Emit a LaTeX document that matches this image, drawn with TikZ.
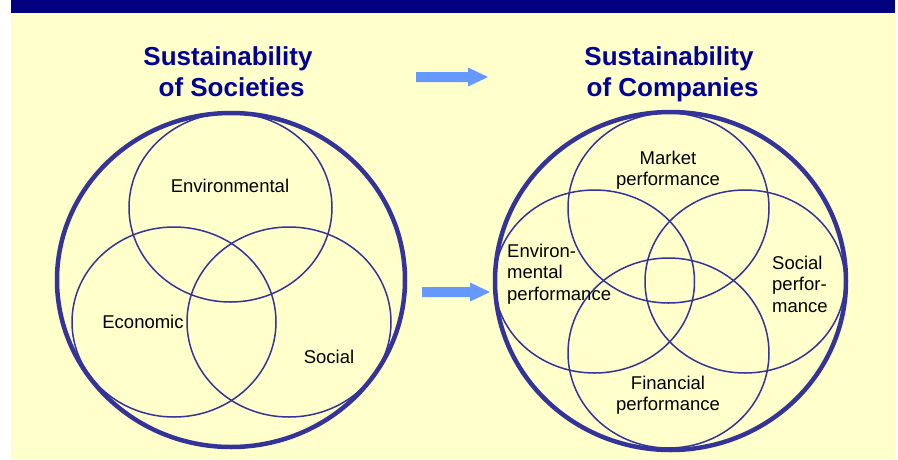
\documentclass[tikz,border=0pt]{standalone}
\usepackage{fontspec}
\setmainfont{Liberation Sans}
\definecolor{bgyellow}{HTML}{FFFFCC}
\definecolor{topnavy}{HTML}{000080}
\definecolor{titleblue}{HTML}{000099}
\definecolor{ringblue}{HTML}{333399}
\definecolor{arrowblue}{HTML}{6699FF}
\begin{document}
\begin{tikzpicture}[x=1pt,y=-1pt,
  bigring/.style={draw=ringblue,line width=4.5pt},
  smallring/.style={draw=ringblue,line width=1.5pt},
  titletext/.style={inner sep=0pt,text=titleblue,font=\fontsize{26}{31}\selectfont\bfseries},
  labeltext/.style={inner sep=0pt,text=black,font=\fontsize{18.5}{21.5}\selectfont},
  fatarrow/.style={fill=arrowblue}]
\useasboundingbox (0,0) rectangle (898,459);
\fill[white] (0,0) rectangle (898,459);
\fill[bgyellow] (11,13) rectangle (895,459);
\fill[topnavy] (11,0) rectangle (895,13);

% titles
\node[titletext,anchor=base] (t1) at (228,65)
  {\begin{tabular}[t]{@{}c@{}}Sustainability\\\hspace*{7.2pt}of Societies\end{tabular}};
\node[titletext,anchor=base] (t2) at (669,65)
  {\begin{tabular}[t]{@{}c@{}}Sustainability\\\hspace*{7.2pt}of Companies\end{tabular}};

% arrows
\fill[fatarrow] (416,72) -- (468,72) -- (468,67.5) -- (488,77) -- (468,86.5) -- (468,82) -- (416,82) -- cycle;
\fill[fatarrow] (422,287) -- (470,287) -- (470,282.5) -- (490,292) -- (470,301.5) -- (470,297) -- (422,297) -- cycle;

% left Venn
\draw[smallring] (230.5,207.5) ellipse [x radius=101.5pt, y radius=94.5pt];
\draw[smallring] (174,322) ellipse [x radius=102pt, y radius=95pt];
\draw[smallring] (289,322) ellipse [x radius=102pt, y radius=95pt];
\draw[bigring] (231,280) ellipse [x radius=174pt, y radius=167pt];

\node[labeltext,anchor=base] (env) at (230,192) {Environmental};
\node[labeltext,anchor=base] (eco) at (143,328) {Economic};
\node[labeltext,anchor=base] (soc) at (329,363) {Social};

% right Venn
\draw[smallring] (668.5,208) ellipse [x radius=100.5pt, y radius=95pt];
\draw[smallring] (668.5,353) ellipse [x radius=100.5pt, y radius=95pt];
\draw[smallring] (594.5,281.5) ellipse [x radius=100pt, y radius=91.5pt];
\draw[smallring] (745,281.5) ellipse [x radius=100pt, y radius=91.5pt];
\draw[bigring] (670.5,281) ellipse [x radius=175.5pt, y radius=169pt];

\node[labeltext,anchor=base] (mkt) at (668,164)
  {\begin{tabular}[t]{@{}c@{}}Market\\performance\end{tabular}};
\node[labeltext,anchor=base west] (envp) at (507,257)
  {\begin{tabular}[t]{@{}l@{}}Environ-\\mental\\performance\end{tabular}};
\node[labeltext,anchor=base west] (socp) at (772,269)
  {\begin{tabular}[t]{@{}l@{}}Social\\perfor-\\mance\end{tabular}};
\node[labeltext,anchor=base] (fin) at (668,389)
  {\begin{tabular}[t]{@{}c@{}}Financial\\performance\end{tabular}};
\end{tikzpicture}
\end{document}
